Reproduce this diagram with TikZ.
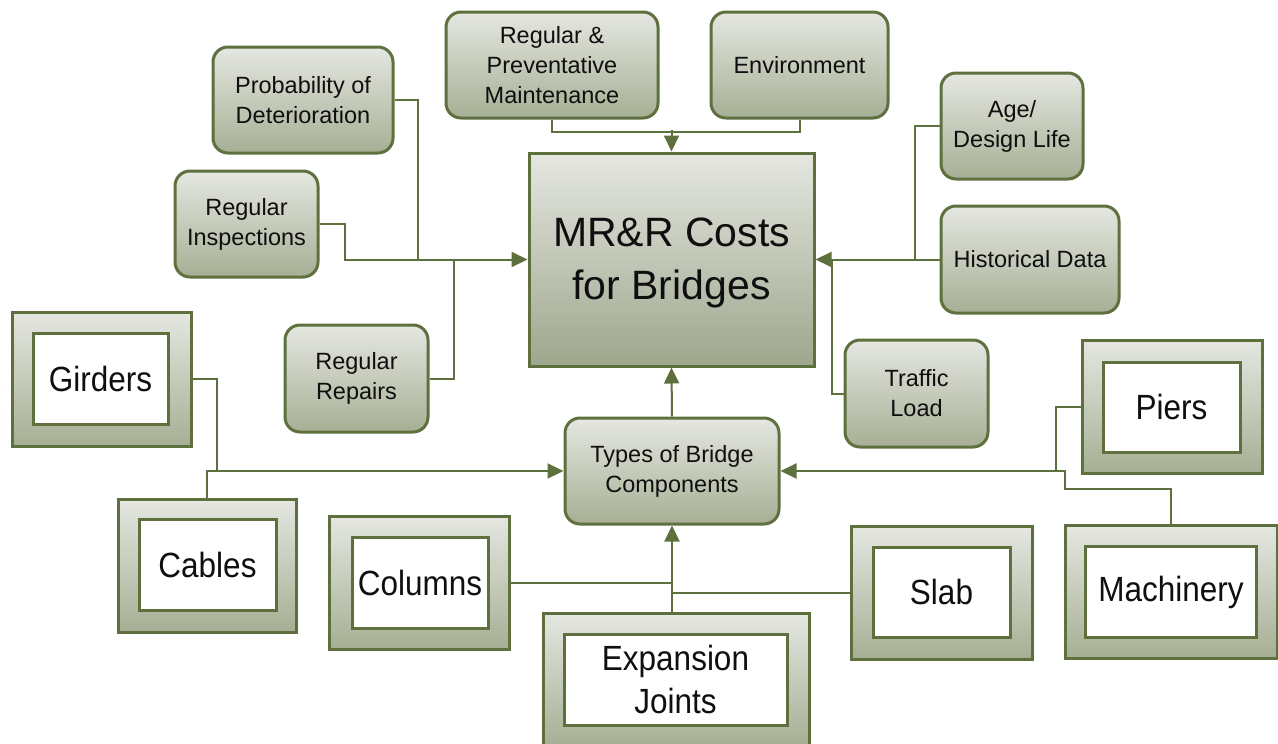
\documentclass[tikz,border=0pt]{standalone}
\usepackage{fontspec}
\setmainfont{Liberation Sans}
\newfontfamily\bigf[FakeStretch=0.9]{Liberation Sans}
\usetikzlibrary{arrows.meta}
\definecolor{bord}{RGB}{94,112,62}
\definecolor{gtop}{RGB}{229,231,225}
\definecolor{gbot}{RGB}{166,175,148}
\definecolor{txt}{RGB}{15,15,15}
\tikzset{
  rbox/.style={draw=bord, line width=3pt, rounded corners=15pt, top color=gtop, bottom color=gbot,
    align=center, text=txt, inner sep=0pt, font=\fontsize{23.5}{30}\selectfont},
  mainbox/.style={draw=bord, line width=3pt, top color=gtop, bottom color=gbot!95!black,
    align=center, text=txt, inner sep=0pt, font=\fontsize{41}{53}\selectfont},
  outerbox/.style={draw=bord, line width=3pt, top color=gtop, bottom color=gbot, inner sep=0pt},
  innerbox/.style={draw=bord, line width=3pt, fill=white, align=center, text=txt, inner sep=0pt,
    font=\bigf\fontsize{35}{43}\selectfont},
  conn/.style={draw=bord, line width=2pt},
  arr/.style={conn, -{Triangle[length=16pt,width=15pt]}}
}
\begin{document}
\begin{tikzpicture}[x=1pt,y=-1pt]
\useasboundingbox (0,0) rectangle (1278,744);
\begin{scope}
\clip (0,0) rectangle (1278,744);
% rounded boxes
\node[rbox, minimum width=180pt, minimum height=106pt] (prob) at (303,100) {Probability of\\Deterioration};
\node[rbox, minimum width=143pt, minimum height=106pt] (insp) at (246.5,224) {Regular\\Inspections};
\node[rbox, minimum width=143pt, minimum height=107pt] (rep) at (356.5,378.5) {Regular\\Repairs};
\node[rbox, minimum width=212pt, minimum height=106pt] (rpm) at (552,65) {Regular \&\\Preventative\\Maintenance};
\node[rbox, minimum width=177pt, minimum height=106pt] (env) at (799.5,65) {Environment};
\node[rbox, minimum width=142pt, minimum height=106pt] (age) at (1012,126) {Age/\\Design Life};
\node[rbox, minimum width=178pt, minimum height=107pt] (hist) at (1030,259.5) {Historical Data};
\node[rbox, minimum width=143pt, minimum height=107pt] (traf) at (916.5,393.5) {Traffic\\Load};
\node[rbox, minimum width=214pt, minimum height=106pt] (types) at (672,471) {Types of Bridge\\Components};
\node[mainbox, minimum width=285pt, minimum height=213pt] (main) at (671.5,259.5) {\rule{0pt}{36pt}MR\&R Costs\\for Bridges};
% framed boxes
\node[outerbox, minimum width=179pt, minimum height=134pt] (gird) at (101.5,379) {};
\node[innerbox, minimum width=135pt, minimum height=91pt] (girdin) at (100.5,378.5) {Girders};
\node[outerbox, minimum width=178pt, minimum height=133pt] (cab) at (207,565.5) {};
\node[innerbox, minimum width=137pt, minimum height=91pt] (cabin) at (207.5,564.5) {Cables};
\node[outerbox, minimum width=180pt, minimum height=133pt] (col) at (419,582.5) {};
\node[innerbox, minimum width=136pt, minimum height=91pt] (colin) at (420,582.5) {Columns};
\node[outerbox, minimum width=181pt, minimum height=133pt] (slab) at (941.5,592.5) {};
\node[innerbox, minimum width=137pt, minimum height=90pt] (slabin) at (941.5,592) {Slab};
\node[outerbox, minimum width=266pt, minimum height=133pt] (exp) at (676,679.5) {};
\node[innerbox, minimum width=223pt, minimum height=91pt] (expin) at (675.5,679.5) {Expansion\\Joints};
\node[outerbox, minimum width=180pt, minimum height=133pt] (piers) at (1172,406.5) {};
\node[innerbox, minimum width=137pt, minimum height=90pt] (piersin) at (1171.5,407) {Piers};
\node[outerbox, minimum width=212pt, minimum height=133pt] (mach) at (1171,591.5) {};
\node[innerbox, minimum width=171pt, minimum height=91pt] (machin) at (1171,592) {Machinery};
% junction coordinates
\coordinate (jp) at (418,259.5);
\coordinate (jr) at (454,259.5);
\coordinate (jt) at (671.5,130);
\coordinate (jh) at (915,259.5);
\coordinate (jtr) at (832,259.5);
\coordinate (jg) at (217,471);
\coordinate (jm) at (1065,471);
\coordinate (jpi) at (1056,471);
% connectors left
\draw[arr] (insp.east) -- ++(25,0) |- (main.west);
\draw[conn] (prob.east) -| (jp);
\draw[conn] (rep.east) -| (jr);
% top
\draw[conn] (rpm.south) -- ++(0,12) -| (env.south);
\draw[arr] (jt) -- (main.north);
% right
\draw[arr] (hist.west) -- (main.east);
\draw[conn] (age.west) -| (jh);
\draw[conn] (traf.west) -| (jtr);
% types to main
\draw[arr] (types.north) -- (main.south);
% bottom left
\draw[conn] (gird.east) -| (jg);
\draw[arr] (cab.north) |- (types.west);
% bottom
\draw[arr] (types.south |- exp.north) -- (types.south);
\draw[conn] (col.east) -- (col.east -| types.south);
\draw[conn] (slab.west) -- (slab.west -| types.south);
% right bottom
\draw[arr] (piers.west) -| (jpi) -- (types.east);
\draw[conn] (mach.north) -- ++(0,-35) -| (jm) -- (jpi);
\end{scope}
\end{tikzpicture}
\end{document}
